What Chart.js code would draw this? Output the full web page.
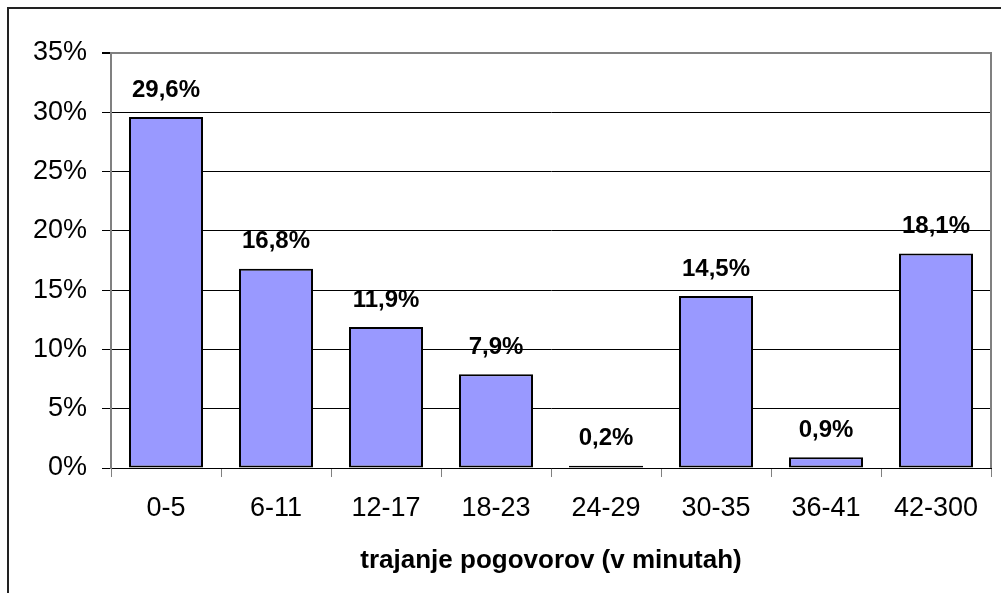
<!DOCTYPE html>
<html>
<head>
<meta charset="utf-8">
<script src="https://cdn.jsdelivr.net/npm/chart.js@4.4.0/dist/chart.umd.min.js"></script>
<style>
  html, body { margin: 0; padding: 0; background: #fff; overflow: hidden; }
  #frame { position: absolute; left: 7px; top: 7px; width: 1100px; height: 700px; border: 2px solid #222; box-sizing: border-box; }
  #wrap { position: absolute; left: 0; top: 0; width: 1001px; height: 593px; }
</style>
</head>
<body>
<div id="frame"></div>
<div id="wrap"><canvas id="c"></canvas></div>
<script>
const categories = ["0-5", "6-11", "12-17", "18-23", "24-29", "30-35", "36-41", "42-300"];
const shares = [29.6, 16.8, 11.9, 7.9, 0.2, 14.5, 0.9, 18.1];
const valueLabels = ["29,6%", "16,8%", "11,9%", "7,9%", "0,2%", "14,5%", "0,9%", "18,1%"];
const axisTitle = "trajanje pogovorov (v minutah)";
const FONT = "'Liberation Sans', Arial, sans-serif";

const labelPlugin = {
  id: 'valueLabels',
  afterDatasetsDraw(chart) {
    const ctx = chart.ctx;
    const meta = chart.getDatasetMeta(0);
    ctx.save();
    ctx.font = "bold 24px " + FONT;
    ctx.fillStyle = '#000';
    ctx.textAlign = 'center';
    ctx.textBaseline = 'middle';
    meta.data.forEach((bar, i) => {
      ctx.fillText(valueLabels[i], bar.x, bar.y - 27);
    });
    // right border of plot area
    const a = chart.chartArea;
    ctx.strokeStyle = '#808080';
    ctx.lineWidth = 2;
    ctx.beginPath();
    ctx.moveTo(a.right, a.top - 1);
    ctx.lineTo(a.right, a.bottom);
    ctx.stroke();
    ctx.restore();
  }
};

new Chart(document.getElementById('c'), {
  type: 'bar',
  data: {
    labels: categories,
    datasets: [{
      data: shares,
      backgroundColor: '#9999FF',
      borderColor: '#000',
      borderWidth: 2,
      borderSkipped: false,
      barPercentage: 0.673,
      categoryPercentage: 1.0
    }]
  },
  options: {
    responsive: true,
    maintainAspectRatio: false,
    animation: false,
    layout: { padding: { left: 0, top: 53, right: 10, bottom: 0 } },
    plugins: { legend: { display: false }, tooltip: { enabled: false } },
    scales: {
      x: {
        afterFit(s) { s.height = 125; },
        grid: { display: true, drawOnChartArea: false, drawTicks: true, tickLength: 9, color: '#808080', offset: true },
        border: { color: '#000', width: 1 },
        ticks: { color: '#000', font: { family: FONT, size: 27 }, padding: 15, maxRotation: 0 },
        title: { display: true, text: axisTitle, color: '#000', font: { family: FONT, size: 26, weight: 'bold' }, padding: { top: 0, bottom: 17 } }
      },
      y: {
        min: 0, max: 35,
        afterFit(s) { s.width = 111; },
        grid: {
          color: (c) => (c.tick && c.tick.value === 35 ? '#808080' : '#000'),
          lineWidth: (c) => (c.tick && c.tick.value === 35 ? 2 : 1),
          tickColor: '#000',
          tickLength: 9
        },
        border: { color: '#808080', width: 2 },
        ticks: { stepSize: 5, color: '#000', font: { family: FONT, size: 27 }, padding: 15, callback: (v) => v + '%' }
      }
    }
  },
  plugins: [labelPlugin]
});
</script>
</body>
</html>
